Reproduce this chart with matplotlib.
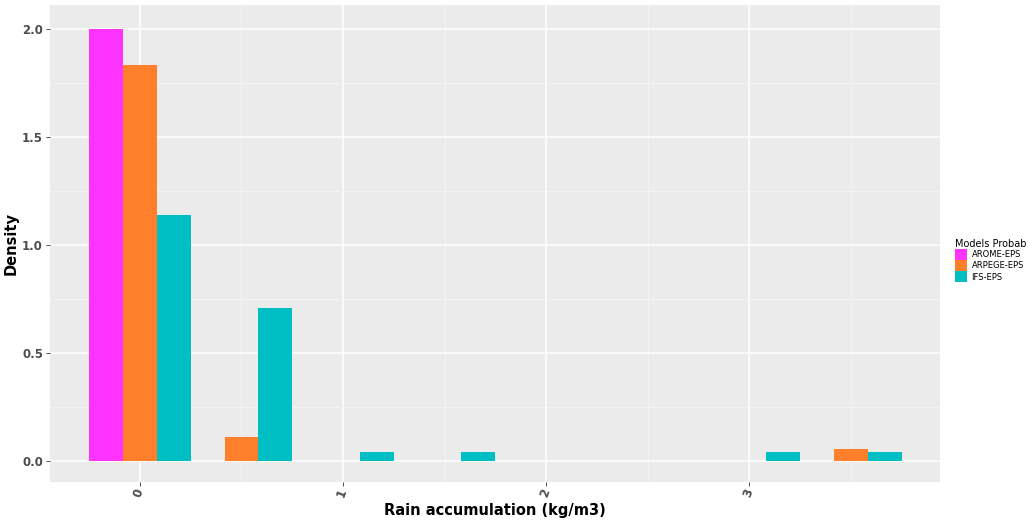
import numpy as np
import matplotlib.pyplot as plt
from matplotlib.patches import Patch

# densidades por bin (ancho 0.5) para cada modelo
bins = [0.0, 0.5, 1.0, 1.5, 2.0, 2.5, 3.0, 3.5]
models = ["AROME-EPS", "ARPEGE-EPS", "IFS-EPS"]
arome = [2.0, 0, 0, 0, 0, 0, 0, 0]
arpege = [1.833, 0.111, 0, 0, 0, 0, 0, 0.056]
ifs = [1.139, 0.708, 0.042, 0.042, 0, 0, 0.042, 0.042]
colors = ["#FF33FF", "#FF7F2A", "#00BFC4"]

fig = plt.figure(figsize=(10.35, 5.21), dpi=100)
ax = fig.add_axes([0.0483, 0.075, 0.860, 0.915])
ax.set_facecolor("#EBEBEB")

bw = 0.5 / 3
x = np.array(bins)
for i, (vals, c) in enumerate(zip([arome, arpege, ifs], colors)):
    ax.bar(x + (i - 1) * bw, vals, width=bw, color=c, zorder=3)

ax.set_xlim(-0.443, 3.94)
ax.set_ylim(-0.097, 2.11)
ax.set_xticks([0, 1, 2, 3])
ax.set_xticks([0.5, 1.5, 2.5, 3.5], minor=True)
ax.set_yticks([0, 0.5, 1.0, 1.5, 2.0])
ax.set_yticks([0.25, 0.75, 1.25, 1.75], minor=True)
ax.set_yticklabels(["0.0", "0.5", "1.0", "1.5", "2.0"])
ax.grid(which="major", color="white", lw=1.1, zorder=0)
ax.grid(which="minor", color="#F5F5F5", lw=0.6, zorder=0)
for s in ax.spines.values():
    s.set_visible(False)
ax.tick_params(which="major", length=3, width=0.6, color="#333333", labelsize=8.5,
               labelcolor="#4D4D4D", pad=2)
ax.tick_params(which="minor", length=0)
for lab in ax.get_xticklabels():
    lab.set_rotation(70)
    lab.set_ha("right")
    lab.set_va("center")
    lab.set_rotation_mode("anchor")
    lab.set_fontweight("bold")
for lab in ax.get_yticklabels():
    lab.set_fontweight("bold")

ax.set_xlabel("Rain accumulation (kg/m3)", fontsize=10.5, fontweight="bold", va="center")
ax.xaxis.set_label_coords(0.5, -0.06)
ax.set_ylabel("Density", fontsize=10.5, fontweight="bold")
ax.yaxis.set_label_coords(-0.035, 0.5)

handles = [Patch(facecolor=c, label=m) for m, c in zip(models, colors)]
leg = fig.legend(handles=handles, title="Models Probab", loc="center left",
                 bbox_to_anchor=(0.917, 0.5), frameon=False, fontsize=6,
                 title_fontsize=7, handlelength=1.4, handleheight=1.6,
                 labelspacing=0.05, handletextpad=0.6, borderpad=0.2)
leg._legend_box.align = "left"

fig.savefig("out.png", dpi=100)
